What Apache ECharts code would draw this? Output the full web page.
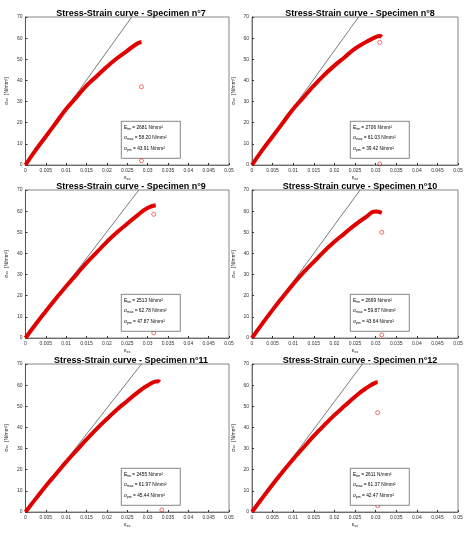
<!DOCTYPE html><html><head><meta charset="utf-8">
<script src="https://cdn.jsdelivr.net/npm/echarts@6/dist/echarts.min.js"></script>
<style>html,body{margin:0;background:#fff}#c{width:474px;height:533px}</style></head><body><div id="c"></div><script>
const specimens=['7','8','9','10','11','12'];
const strains=[0,0.0025,0.005,0.0075,0.01,0.0125,0.015,0.0175,0.02,0.0225,0.025,0.0275];
const stress7=[0,7,13.5,20,26.5,32,37.5,42,46.5,50.5,54,57.5];
const tail7=[[0.0285,58.2]];
const stress8=[0,7,13.5,20,26.5,32,37.5,42.5,47,51,55,58];
const tail8=[[0.03,60.5],[0.031,61],[0.0315,60.6]];
const stress9=[0,6.5,12.7,18.7,24.5,30,35.5,40.5,45.5,50,54,58];
const tail9=[[0.03,61.5],[0.032,62.8]];
const stress10=[0,6.8,13.3,19.5,25.5,31,36,41,45.5,49.5,53.5,57];
const tail10=[[0.03,59.8],[0.0315,59.2]];
const stress11=[0,6.2,12.3,18,23.7,29,34.3,39.3,44,48.5,52.5,56.5];
const tail11=[[0.03,59.8],[0.0325,61.9],[0.033,61.5]];
const stress12=[0,6.6,13,19.2,25,30.5,36,41,45.8,50.2,54.5,58.3];
const tail12=[[0.03,61.2],[0.0305,61.4]];
const Etm=[2681,2706,2513,2669,2455,2611];
const sigmaMax=['58.20','61.03','62.78','59.87','61.97','61.37'];
const sigmaPm=['43.91','39.42','47.87','43.64','45.44','42.47'];
const circles=[[[0.0285,37],[0.0285,2]],[[0.031,58],[0.031,0.5]],[[0.0315,58.5],[0.0315,2.5]],[[0.0315,50],[0.0315,1.5]],[[0.0335,1]],[[0.0305,47],[0.0305,3]]];
const stressList=[stress7,stress8,stress9,stress10,stress11,stress12];
const tails=[tail7,tail8,tail9,tail10,tail11,tail12];
const xTicks=['0','0.005','0.01','0.015','0.02','0.025','0.03','0.035','0.04','0.045','0.05'];

const tops=[17,190,364], lefts=[23,252], W=206, H=148;
const grid=[],xAxis=[],yAxis=[],series=[],graphic=[],title=[];
const sub={fontSize:3.5,verticalAlign:'bottom',padding:[3,0,0,0]};
specimens.forEach((s,i)=>{
  const r=Math.floor(i/2), c=i%2, L=lefts[c], T=tops[r];
  grid.push({left:L,top:T,width:W,height:H,show:true,borderColor:'#333',borderWidth:0.6});
  title.push({text:'Stress-Strain curve - Specimen n°'+s,left:L+W/2,top:T-13,textAlign:'center',textStyle:{fontSize:9,fontWeight:'bold',color:'#000',fontFamily:'Liberation Sans'}});
  xAxis.push({gridIndex:i,type:'value',min:0,max:0.05,interval:0.005,name:'{a|ε}{s|xx}',nameLocation:'middle',nameGap:9,nameTextStyle:{rich:{a:{fontSize:6,color:'#333'},s:{fontSize:4,color:'#333',padding:[3,0,0,0]}}},
    axisLine:{lineStyle:{color:'#333',width:0.6}},axisTick:{inside:true,length:2,lineStyle:{color:'#333'}},splitLine:{show:false},
    axisLabel:{fontSize:5,color:'#333',margin:3,formatter:v=>xTicks[Math.round(v/0.005)]}});
  yAxis.push({gridIndex:i,type:'value',min:0,max:70,interval:10,name:'{a|σ}{s|xx} {a|[N/mm²]}',nameLocation:'middle',nameGap:11,nameTextStyle:{rich:{a:{fontSize:5,color:'#333'},s:{fontSize:3.5,color:'#333'}}},
    axisLine:{lineStyle:{color:'#333',width:0.6}},axisTick:{inside:true,length:2,lineStyle:{color:'#333'}},splitLine:{show:false},
    axisLabel:{fontSize:5,color:'#333',margin:3}});
  const pts=strains.map((x,k)=>[x,stressList[i][k]]).concat(tails[i]);
  series.push({type:'line',xAxisIndex:i,yAxisIndex:i,data:[[0,0],[70/Etm[i],70]],symbol:'none',lineStyle:{color:'#444',width:0.7},silent:true});
  series.push({type:'line',xAxisIndex:i,yAxisIndex:i,data:pts,smooth:true,symbol:'none',lineStyle:{color:'#e00000',width:4}});
  series.push({type:'scatter',xAxisIndex:i,yAxisIndex:i,data:circles[i],symbol:'circle',symbolSize:4,itemStyle:{color:'none',borderColor:'#e00000',borderWidth:0.7}});
  graphic.push({type:'rect',left:L+98,top:T+104,shape:{width:59,height:37},style:{fill:'#fff',stroke:'#333',lineWidth:0.6},z:10});
  const lines=[['E','tm',' = '+Etm[i]+' N/mm²'],['σ','max',' = '+sigmaMax[i]+' N/mm²'],['σ','pm',' = '+sigmaPm[i]+' N/mm²']];
  lines.forEach((ln,k)=>graphic.push({type:'text',left:L+101,top:T+108+k*10.5,z:11,style:{rich:{a:{fontSize:4.8,fill:'#000',fontFamily:'Liberation Sans'},s:{fontSize:3.4,fill:'#000',padding:[3,0,0,0],fontFamily:'Liberation Sans'}},text:'{a|'+ln[0]+'}{s|'+ln[1]+'}{a|'+ln[2]+'}'}}));
});
const ch=echarts.init(document.getElementById('c'));
ch.setOption({animation:false,title,grid,xAxis,yAxis,series,graphic});
</script></body></html>
